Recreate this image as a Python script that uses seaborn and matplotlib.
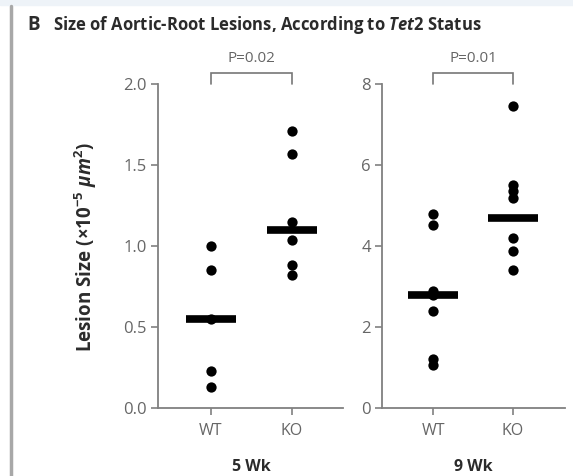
import numpy as np
import pandas as pd
import matplotlib
matplotlib.use("Agg")
import matplotlib.pyplot as plt
import seaborn as sns

# ---- data ----
groups = ["WT", "KO"]
wk5_wt = [1.00, 0.85, 0.55, 0.23, 0.13]
wk5_ko = [1.71, 1.57, 1.15, 1.04, 0.88, 0.82]
wk9_wt = [4.80, 4.52, 2.90, 2.80, 2.40, 1.22, 1.05]
wk9_ko = [7.45, 5.50, 5.35, 5.18, 4.20, 3.88, 3.40]
wk5_med = [0.55, 1.10]
wk9_med = [2.80, 4.70]
p_values = ["P=0.02", "P=0.01"]
panel_titles = ["5 Wk", "9 Wk"]
y_ticks = [[0.0, 0.5, 1.0, 1.5, 2.0], [0, 2, 4, 6, 8]]
y_ticklabels = [["0.0", "0.5", "1.0", "1.5", "2.0"], ["0", "2", "4", "6", "8"]]

sns.set_style("white")
plt.rcParams["font.family"] = ["Open Sans", "DejaVu Sans"]
plt.rcParams["mathtext.fontset"] = "custom"
plt.rcParams["mathtext.rm"] = "Open Sans:bold"
plt.rcParams["mathtext.it"] = "Open Sans:italic:bold"
plt.rcParams["mathtext.bf"] = "Open Sans:bold"

W, H = 573, 476
fig = plt.figure(figsize=(W / 100, H / 100), dpi=100)
fig.patch.set_facecolor("white")

spine_c = "#808080"
tick_c = "#666666"
dark = "#2b2b2b"

def px_axes(x0, x1, ytop, ybot):
    return [x0 / W, 1 - ybot / H, (x1 - x0) / W, (ybot - ytop) / H]

panels = [
    (px_axes(158, 343, 84, 408), wk5_wt, wk5_ko, wk5_med, (-0.65, 1.63), (0, 2.0)),
    (px_axes(382, 565, 84, 408), wk9_wt, wk9_ko, wk9_med, (-0.64, 1.65), (0, 8.0)),
]

for i, (rect, wt, ko, med, xl, yl) in enumerate(panels):
    ax = fig.add_axes(rect)
    df = pd.DataFrame({
        "group": ["WT"] * len(wt) + ["KO"] * len(ko),
        "value": wt + ko,
    })
    sns.stripplot(data=df, x="group", y="value", order=groups, jitter=False,
                  color="black", size=7.4, linewidth=0, ax=ax, zorder=3)
    for j, m in enumerate(med):
        ax.hlines(m, j - 0.31, j + 0.31, color="black", lw=5.5, zorder=4)
    ax.set_xlim(*xl)
    ax.set_ylim(*yl)
    ax.set_yticks(y_ticks[i])
    ax.set_yticklabels(y_ticklabels[i])
    ax.set_xlabel("")
    ax.set_ylabel("")
    for s in ["top", "right"]:
        ax.spines[s].set_visible(False)
    for s in ["left", "bottom"]:
        ax.spines[s].set_color(spine_c)
        ax.spines[s].set_linewidth(1.3)
    ax.tick_params(axis="both", colors=spine_c, labelcolor=tick_c,
                   length=5, width=1.2, direction="out",
                   left=True, bottom=True)
    ax.tick_params(axis="y", labelsize=12, pad=3)
    ax.tick_params(axis="x", labelsize=11.5, pad=6)
    ax.set_facecolor("none")
    # bracket
    yt = yl[1] * 1.035
    yb = yl[1] * 1.0
    ax.plot([0, 0, 1, 1], [yb, yt, yt, yb], color="#777777", lw=1.2,
            clip_on=False, solid_joinstyle="miter")
    ax.text(0.5, yl[1] * 1.055, p_values[i], ha="center", va="bottom",
            fontsize=11, color=tick_c, clip_on=False)
    ax.text(0.5, -0.182, panel_titles[i], transform=ax.get_xaxis_transform(),
            ha="center", va="center", fontsize=11.5, fontweight="bold", color=dark)

# y label
fig.text(86 / W, 1 - 247 / H, r"Lesion Size (×10$^{-5}$ $\it{\mu m}$$^{2}$)",
         rotation=90, ha="center", va="center", fontsize=13.5,
         fontweight="bold", color=dark)

# title
fig.text(27 / W, 1 - 25 / H, "B", ha="left", va="center", fontsize=13.5,
         fontweight="bold", color=dark)
fig.text(53 / W, 1 - 25 / H,
         r"Size of Aortic-Root Lesions, According to $\mathbf{\it{Tet2}}$ Status",
         ha="left", va="center", fontsize=12, fontweight="bold", color=dark)

# decorations: top band and left rule
fig.patches.append(plt.Rectangle((0, 1 - 5 / H), 1, 5 / H, transform=fig.transFigure,
                                 color="#eef3f8", zorder=0))
fig.lines.append(plt.Line2D([11 / W, 11 / W], [0, 1 - 6 / H], transform=fig.transFigure,
                            color="#a8a8a8", lw=2.5))

fig.savefig("out.png", dpi=100)
